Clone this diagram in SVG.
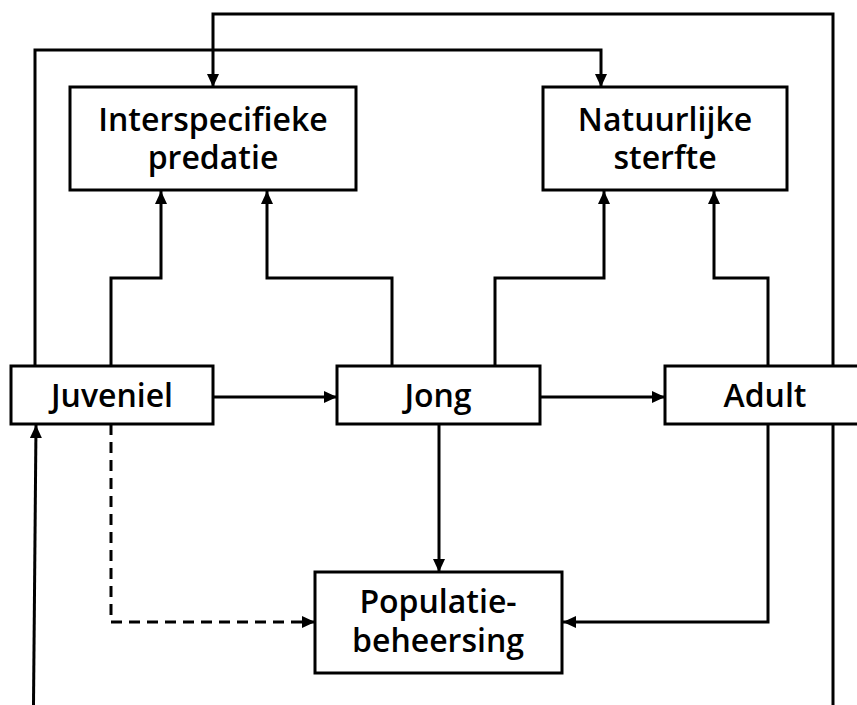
<svg xmlns="http://www.w3.org/2000/svg" width="857" height="705" viewBox="0 0 857 705">
  <defs>
    <marker id="arrow" markerWidth="13" markerHeight="12" refX="13" refY="6" orient="auto" markerUnits="userSpaceOnUse">
      <path d="M0,0 L13,6 L0,12 Z" fill="#000"/>
    </marker>
    <style>
      .box { fill: #fff; stroke: #000; stroke-width: 3; }
      .label { font-family: "Open Sans", "Liberation Sans", sans-serif; font-weight: 600; font-size: 32px; fill: #000; text-anchor: middle; }
      .link { fill: none; stroke: #000; stroke-width: 3; marker-end: url(#arrow); }
      .dashed { stroke-dasharray: 11 7; }
    </style>
  </defs>
  <rect width="857" height="705" fill="#fff"/>

  <g id="connectors">
    <!-- outer feedback loops -->
    <path class="link" d="M833,705 L833,14 L213,14 L213,87"/>
    <path class="link" d="M35,366 L35,50 L601,50 L601,87"/>
    <path class="link" d="M33.5,705 L36,425"/>
    <!-- to Interspecifieke predatie -->
    <path class="link" d="M111,366 L111,278 L161,278 L161,191"/>
    <path class="link" d="M392,366 L392,278 L267,278 L267,191"/>
    <!-- to Natuurlijke sterfte -->
    <path class="link" d="M495,366 L495,278 L604,278 L604,191"/>
    <path class="link" d="M768,366 L768,278 L714,278 L714,191"/>
    <!-- life stage transitions -->
    <path class="link" d="M213,397 L337,397"/>
    <path class="link" d="M540,397 L665,397"/>
    <!-- to Populatiebeheersing -->
    <path class="link" d="M439,424 L439,572"/>
    <path class="link" d="M768,424 L768,622 L563,622"/>
    <path class="link dashed" d="M111,424 L111,622 L315,622"/>
  </g>

  <g id="interspecifieke-predatie">
    <rect class="box" x="70" y="87" width="286" height="103"/>
    <text class="label" x="213" y="131">Interspecifieke<tspan x="213" dy="38">predatie</tspan></text>
  </g>

  <g id="natuurlijke-sterfte">
    <rect class="box" x="543" y="87" width="244" height="103"/>
    <text class="label" x="665" y="131">Natuurlijke<tspan x="665" dy="38">sterfte</tspan></text>
  </g>

  <g id="juveniel">
    <rect class="box" x="11" y="366" width="202" height="58"/>
    <text class="label" x="112" y="407">Juveniel</text>
  </g>

  <g id="jong">
    <rect class="box" x="337" y="366" width="203" height="58"/>
    <text class="label" x="438" y="407">Jong</text>
  </g>

  <g id="adult">
    <rect class="box" x="665" y="366" width="205" height="58"/>
    <text class="label" x="765" y="407">Adult</text>
  </g>

  <g id="populatiebeheersing">
    <rect class="box" x="315" y="572" width="247" height="101"/>
    <text class="label" x="438" y="613">Populatie-<tspan x="438" dy="39">beheersing</tspan></text>
  </g>
</svg>
